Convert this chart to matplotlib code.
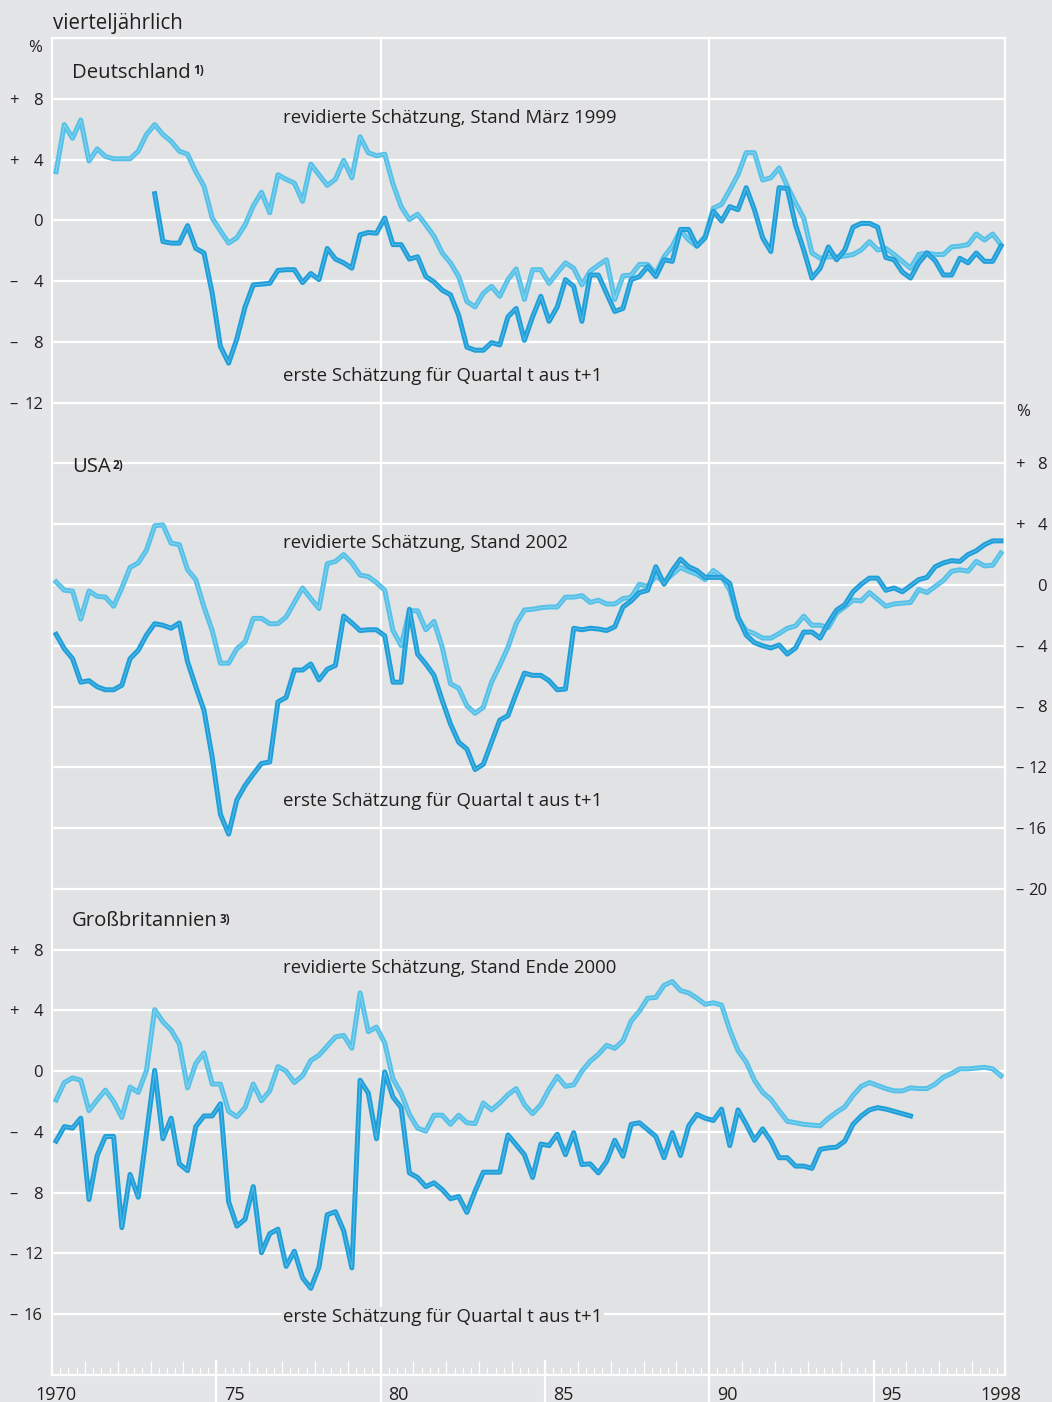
import numpy as np
import pandas as pd
import matplotlib
matplotlib.use('Agg')
import matplotlib.pyplot as plt
from matplotlib import transforms

# Quartalswerte 1970Q1 - 1998Q4 (in %)
quartale = pd.period_range('1970Q1', '1998Q4', freq='Q')

# Deutschland
de_revidiert = [
    3.2, 6.3, 5.4, 6.6, 3.9, 4.7, 4.2, 4.05, 4.05, 4.05, 4.55, 5.65, 6.3, 5.65,
    5.2, 4.55, 4.35, 3.2, 2.25, 0.15, -0.7, -1.5, -1.15, -0.3, 0.95, 1.85, 0.5,
    3.0, 2.7, 2.45, 1.25, 3.7, 3.0, 2.3, 2.7, 3.95, 2.8, 5.5, 4.45, 4.25, 4.35, 2.4,
    0.9, 0.05, 0.4, -0.3, -1.05, -2.15, -2.8, -3.7, -5.35, -5.7, -4.8, -4.35,
    -5.0, -3.9, -3.2, -5.2, -3.25, -3.25, -4.15, -3.45, -2.8, -3.15, -4.25, -3.35,
    -2.95, -2.6, -5.2, -3.65, -3.6, -2.9, -2.9, -3.5, -2.4, -1.7, -0.65, -1.3,
    -1.7, -1.05, 0.8, 1.05, 2.0, 3.0, 4.45, 4.45, 2.65, 2.8, 3.45, 2.25, 1.15, 0.15,
    -2.15, -2.5, -2.4, -2.4, -2.35, -2.25, -1.95, -1.4, -1.95, -1.85, -2.25, -2.7,
    -3.15, -2.25, -2.15, -2.25, -2.25, -1.75, -1.7, -1.6, -0.9, -1.3, -0.9, -1.6]
de_erste_start = 12  # ab 1973Q1
de_erste = [
    1.75, -1.4, -1.5, -1.5, -0.35, -1.85, -2.15, -4.8, -8.3, -9.4, -7.8, -5.7,
    -4.25, -4.2, -4.15, -3.3, -3.25, -3.25, -4.1, -3.5, -3.9, -1.85, -2.55, -2.8,
    -3.15, -0.95, -0.8, -0.85, 0.15, -1.6,
    -1.6, -2.55, -2.4, -3.7, -4.05, -4.6, -4.9, -6.25, -8.35, -8.55, -8.55, -8.05,
    -8.2, -6.35, -5.8, -7.9, -6.35, -5.0, -6.65, -5.7, -3.9, -4.35, -6.65, -3.6,
    -3.6, -4.8, -6.0, -5.8, -3.9, -3.7, -3.05, -3.7, -2.6, -2.7, -0.6, -0.6,
    -1.7, -1.15, 0.6, -0.05, 0.9, 0.7, 2.15, 0.7, -1.15, -2.05, 2.15, 2.1, -0.3,
    -1.95, -3.8, -3.15, -1.75, -2.6, -1.95, -0.45, -0.2, -0.2, -0.45, -2.45, -2.6,
    -3.4, -3.8, -2.8, -2.15, -2.65, -3.6, -3.6, -2.5, -2.8, -2.15, -2.7, -2.7, -1.7]

# USA
us_revidiert = [
    0.2, -0.35, -0.4, -2.25, -0.4, -0.75, -0.8, -1.4, -0.2, 1.15, 1.45, 2.3, 3.9,
    3.95, 2.75, 2.65, 1.0, 0.35, -1.45, -3.0, -5.15, -5.15, -4.2, -3.75, -2.2,
    -2.2, -2.55, -2.55, -2.1, -1.15, -0.2, -0.9, -1.55, 1.4, 1.55, 2.0, 1.45, 0.65,
    0.55, 0.15, -0.35, -3.0,
    -4.0, -1.7, -1.7, -2.95, -2.4, -4.1, -6.5, -6.8, -7.95, -8.45, -8.05, -6.4,
    -5.3, -4.1, -2.55, -1.65, -1.6, -1.5, -1.45, -1.45, -0.8, -0.8, -0.7, -1.15,
    -1.0, -1.25, -1.25, -0.9, -0.8, 0.05, -0.1, 0.6, 0.2, 0.7, 1.15, 0.9,
    0.7, 0.35, 0.95, 0.55, -0.35, -2.2, -3.0, -3.2, -3.5, -3.5, -3.2, -2.85, -2.7,
    -2.05, -2.65, -2.65, -2.8, -1.85, -1.45, -1.0, -1.05, -0.5, -0.95, -1.4, -1.25,
    -1.2, -1.15, -0.3, -0.5, -0.1, 0.3, 0.9, 1.0, 0.9, 1.55, 1.25, 1.3, 2.1]
us_erste = [
    -3.25, -4.2, -4.85, -6.4, -6.3, -6.7, -6.9, -6.9, -6.6, -4.85, -4.3, -3.3,
    -2.55, -2.65, -2.85, -2.5, -5.05, -6.7, -8.25, -11.35, -15.1, -16.4, -14.15,
    -13.2, -12.45, -11.75, -11.65, -7.7, -7.4, -5.6, -5.6, -5.2, -6.25, -5.55, -5.3,
    -2.05, -2.5, -3.0, -2.95, -2.95, -3.35, -6.4,
    -6.4, -1.6, -4.55, -5.2, -5.95, -7.6, -9.15, -10.35, -10.8, -12.15, -11.8,
    -10.35, -8.9, -8.6, -7.15, -5.8, -5.95, -5.95, -6.3, -6.9, -6.85, -2.85, -2.95,
    -2.85, -2.9, -3.0, -2.75, -1.45, -1.05, -0.5, -0.35, 1.2, 0.05, 0.95, 1.7, 1.2,
    0.95, 0.5, 0.5, 0.5, 0.1, -2.1, -3.3, -3.8, -4.0, -4.15, -3.95, -4.55, -4.15,
    -3.1, -3.1, -3.5, -2.5, -1.65, -1.3, -0.45, 0.05, 0.45, 0.45, -0.35, -0.2,
    -0.45, -0.05, 0.35, 0.5, 1.2, 1.45, 1.6, 1.55, 2.0, 2.25, 2.65, 2.9, 2.9]

# Grossbritannien
gb_revidiert = [
    -1.9, -0.75, -0.45, -0.6, -2.6, -1.9, -1.25, -2.0, -3.05, -1.05, -1.4, 0.05,
    4.05, 3.25, 2.7, 1.8, -1.1, 0.5, 1.2, -0.85, -0.85, -2.65, -3.0, -2.4, -0.85,
    -1.95, -1.3, 0.3, 0.0, -0.75, -0.3, 0.7, 1.05, 1.65, 2.25, 2.35, 1.5, 5.15, 2.6,
    2.9, 1.85, -0.5,
    -1.45, -2.85, -3.75, -3.95, -2.9, -2.9, -3.5, -2.9, -3.4, -3.45, -2.1, -2.55,
    -2.1, -1.55, -1.15, -2.2, -2.8, -2.2, -1.2, -0.35, -1.0, -0.9, 0.0, 0.65, 1.1,
    1.7, 1.5, 2.0, 3.3, 3.95, 4.8, 4.85, 5.65, 5.9, 5.3, 5.15,
    4.8, 4.4, 4.5, 4.35, 2.7, 1.35, 0.6, -0.6, -1.4, -1.85, -2.6, -3.3, -3.4, -3.5,
    -3.55, -3.6, -3.1, -2.7, -2.35, -1.6, -1.0, -0.75, -0.95, -1.15, -1.3, -1.3,
    -1.1, -1.15, -1.15, -0.85, -0.4, -0.15, 0.15, 0.15, 0.2, 0.25, 0.15, -0.3]
gb_erste = [
    -4.6, -3.65, -3.75, -3.1, -8.45, -5.55, -4.3, -4.3, -10.3, -6.8, -8.3, -4.15,
    0.05, -4.45, -3.1, -6.1, -6.55, -3.65, -2.95, -2.95, -2.15, -8.6, -10.2, -9.75,
    -7.6, -11.95, -10.7, -10.4, -12.85, -11.85, -13.6, -14.3, -12.9, -9.45, -9.25,
    -10.5, -12.95, -0.6, -1.45, -4.45, -0.05, -1.7,
    -2.4, -6.7, -7.0, -7.6, -7.35, -7.8, -8.4, -8.25, -9.3, -7.9, -6.65, -6.65,
    -6.65, -4.2, -4.85, -5.5, -7.0, -4.8, -4.9, -4.15, -5.5, -4.05, -6.15, -6.1,
    -6.7, -5.95, -4.55, -5.6, -3.5, -3.4, -3.85, -4.3, -5.7, -4.05, -5.55, -3.6,
    -2.85, -3.1, -3.25, -2.5, -4.9, -2.55, -3.5, -4.55, -3.8, -4.6, -5.7, -5.7,
    -6.25, -6.25, -6.4, -5.15, -5.05, -5.0, -4.6, -3.5, -2.95, -2.55, -2.4, -2.5,
    -2.65, -2.8, -2.95]

# Tick-Beschriftungen je Panel
de_ticks = [8, 4, 0, -4, -8, -12]
us_ticks = [8, 4, 0, -4, -8, -12, -16, -20]
gb_ticks = [8, 4, 0, -4, -8, -12, -16]
jahr_labels = {1970: '1970', 1975: '75', 1980: '80', 1985: '85', 1990: '90',
               1995: '95', 1998: '1998'}

# Versatz der Panels auf der gemeinsamen Achse
OFF_DE, OFF_US, OFF_GB = 0, -24, -56

HELL = '#56c1e8'
DUNKEL = '#1f9fd9'
BG = '#e1e2e4'
TXT = '#231f20'
W, H = 1052, 1402
AX_TOP, AX_BOT = 38, 1375
AX_H = AX_BOT - AX_TOP

plt.rcParams['font.family'] = ['Open Sans', 'DejaVu Sans']


def zeit(start, n):
    q = quartale[start:start + n]
    return np.asarray(q.year + (q.quarter - 0.5) / 4.0, dtype=float)


def px(x, y):
    return x / W, 1 - y / H


fig = plt.figure(figsize=(W / 100, H / 100), dpi=100)
fig.patch.set_facecolor('#e4e5e7')
ax = fig.add_axes([52 / W, (H - AX_BOT) / H, 953 / W, AX_H / H])
ax.set_facecolor(BG)
ax.set_xlim(1970, 1999)
ax.set_ylim(-76, 12)

for s in ax.spines.values():
    s.set_color('white')
    s.set_linewidth(1.6)

ax.set_yticks(np.arange(-76, 13, 4))
ax.tick_params(axis='y', length=0, labelleft=False)
ax.grid(axis='y', color='white', lw=1.6)
ax.set_axisbelow(True)

ax.set_xticks(np.arange(1970, 2000, 1))
ax.set_xticks(np.arange(1970, 1999.01, 0.25), minor=True)
ax.tick_params(axis='x', which='major', direction='in', length=10, width=0.9,
               color='white', labelbottom=False)
ax.tick_params(axis='x', which='minor', direction='in', length=5.5, width=0.8,
               color='white')

tr_x = transforms.blended_transform_factory(ax.transData, ax.transAxes)
for yr in [1975, 1980, 1985, 1990, 1995]:
    oben = 1.0 if yr in (1980, 1990) else 14 / AX_H
    ax.plot([yr, yr], [-26 / AX_H, oben], color='white', lw=1.6,
            transform=tr_x, clip_on=False, zorder=1)


def linie(x, y, farbe, mitte, z):
    ax.plot(x, y, color=farbe, lw=3.6, zorder=z, solid_joinstyle='round')
    ax.plot(x, y, color=mitte, lw=0.7, zorder=z + 0.1, alpha=0.6)


reihen = [
    (de_revidiert, 0, OFF_DE, HELL, '#a9def3', 3),
    (de_erste, de_erste_start, OFF_DE, DUNKEL, '#7ccaee', 4),
    (us_revidiert, 0, OFF_US, HELL, '#a9def3', 3),
    (us_erste, 0, OFF_US, DUNKEL, '#7ccaee', 4),
    (gb_revidiert, 0, OFF_GB, HELL, '#a9def3', 3),
    (gb_erste, 0, OFF_GB, DUNKEL, '#7ccaee', 4),
]
for werte, start, off, farbe, mitte, z in reihen:
    x = zeit(start, len(werte))
    linie(x, np.array(werte) + off, farbe, mitte, z)

# Achsenbeschriftungen links / rechts
tr_l = transforms.blended_transform_factory(fig.transFigure, ax.transData)
TICK_FS = 12


def achse(ticks, off, x_vz, x_num):
    for v in ticks:
        vz = '+' if v > 0 else ('\u2013' if v < 0 else '')
        if vz:
            fig.text(x_vz / W, v + off, vz, transform=tr_l, ha='center',
                     va='center_baseline', fontsize=TICK_FS, color=TXT)
        fig.text(x_num / W, v + off, str(abs(v)), transform=tr_l, ha='right',
                 va='center_baseline', fontsize=TICK_FS, color=TXT)


achse(de_ticks, OFF_DE, 14, 43)
achse(gb_ticks, OFF_GB, 14, 43)
achse(us_ticks, OFF_US, 1020, 1047)
fig.text(*px(35, 46), '%', ha='center', va='center_baseline', fontsize=TICK_FS,
         color=TXT)
fig.text(*px(1023, 410), '%', ha='center', va='center_baseline',
         fontsize=TICK_FS, color=TXT)

# Jahreszahlen
for yr, lab in jahr_labels.items():
    xl = 35 if yr == 1970 else (980 if yr == 1998 else 52 + (yr - 1970) * 32.86 + 8)
    fig.text(*px(xl, 1393), lab, ha='left', va='center_baseline', fontsize=13,
             color=TXT)

fig.text(*px(53, 21), 'vierteljährlich', ha='left', va='center_baseline',
         fontsize=14.8, color=TXT)

# Panel-Titel mit Fussnoten
for name, fn, y in [('Deutschland', '1)', 70), ('USA', '2)', 465),
                    ('Großbritannien', '3)', 919)]:
    t = fig.text(*px(72, y), name, ha='left', va='center_baseline',
                 fontsize=14.6, color=TXT)
    ax.annotate(fn, xy=(1, 1), xycoords=t, xytext=(1.5, -1.0),
                textcoords='offset points', ha='left', va='top', fontsize=8.5,
                fontweight='bold', color=TXT)

# Reihenbeschriftungen
LAB_FS = 13.4
for txt, y in [('revidierte Schätzung, Stand März 1999', 116),
               ('erste Schätzung für Quartal t aus t+1', 374),
               ('revidierte Schätzung, Stand 2002', 541),
               ('erste Schätzung für Quartal t aus t+1', 799),
               ('revidierte Schätzung, Stand Ende 2000', 966)]:
    fig.text(*px(283, y), txt, ha='left', va='center_baseline', fontsize=LAB_FS,
             color=TXT)
fig.text(*px(283, 1315), 'erste Schätzung für Quartal t aus t+1', ha='left',
         va='center_baseline', fontsize=LAB_FS, color=TXT,
         bbox=dict(facecolor=BG, edgecolor='none', pad=1.0))

fig.savefig('out.png', dpi=100, facecolor=fig.get_facecolor())
